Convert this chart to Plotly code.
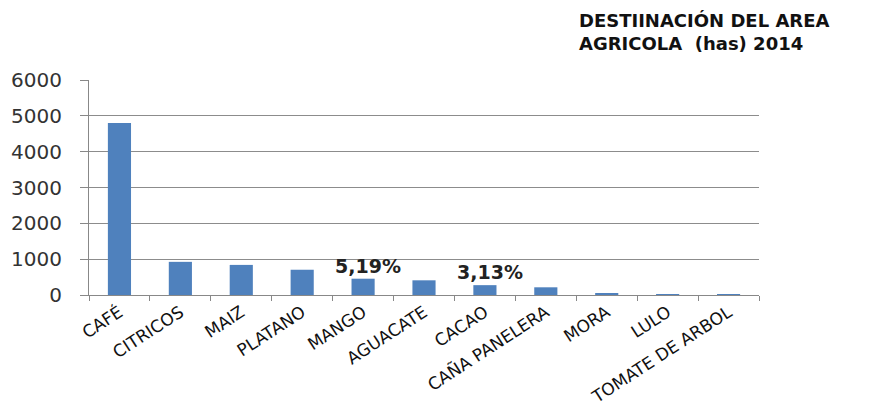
import plotly.graph_objects as go

categories = ["CAFÉ", "CITRICOS", "MAIZ", "PLATANO", "MANGO", "AGUACATE", "CACAO",
              "CAÑA PANELERA", "MORA", "LULO", "TOMATE DE ARBOL"]
values = [4800, 925, 840, 705, 455, 410, 275, 215, 55, 25, 25]
label_cats = ["MANGO", "CACAO"]
label_texts = ["5,19%", "3,13%"]
y_ticks = [0, 1000, 2000, 3000, 4000, 5000, 6000]

fig = go.Figure()
fig.add_trace(go.Bar(x=categories, y=values, marker=dict(color="#4F81BD", line=dict(width=0)),
                     width=0.38))

for c, t in zip(label_cats, label_texts):
    fig.add_annotation(x=c, y=values[categories.index(c)], text="<b>" + t + "</b>",
                       showarrow=False, yanchor="bottom", xshift=5, yshift=0,
                       font=dict(family="DejaVu Sans", size=19, color="#222222"))

fig.add_annotation(xref="paper", yref="paper", x=0.728, y=1.335, xanchor="left", yanchor="top",
                   align="left", showarrow=False,
                   text="<b>DESTIINACIÓN DEL AREA<br>AGRICOLA  (has) 2014</b>",
                   font=dict(family="DejaVu Sans", size=18, color="#111111"))

fig.update_layout(
    width=870, height=408,
    margin=dict(l=81, r=119, t=72, b=121),
    paper_bgcolor="white", plot_bgcolor="white",
    showlegend=False,
    xaxis=dict(type="category", tickson="boundaries", ticks="outside", ticklen=5,
               tickcolor="#888888", showline=True, linecolor="#888888", linewidth=1,
               tickangle=-33, tickfont=dict(family="DejaVu Sans", size=17, color="#111111"),
               showgrid=False, automargin=False),
    yaxis=dict(range=[0, 6000], tickvals=y_ticks, showgrid=True, gridcolor="#8c8c8c",
               gridwidth=1, showline=True, linecolor="#888888", ticks="outside", ticklen=8,
               tickcolor="#888888", zeroline=False, automargin=False, ticklabelstandoff=14,
               tickfont=dict(family="DejaVu Sans", size=20, color="#333333")),
)

fig.write_html("out.html")
